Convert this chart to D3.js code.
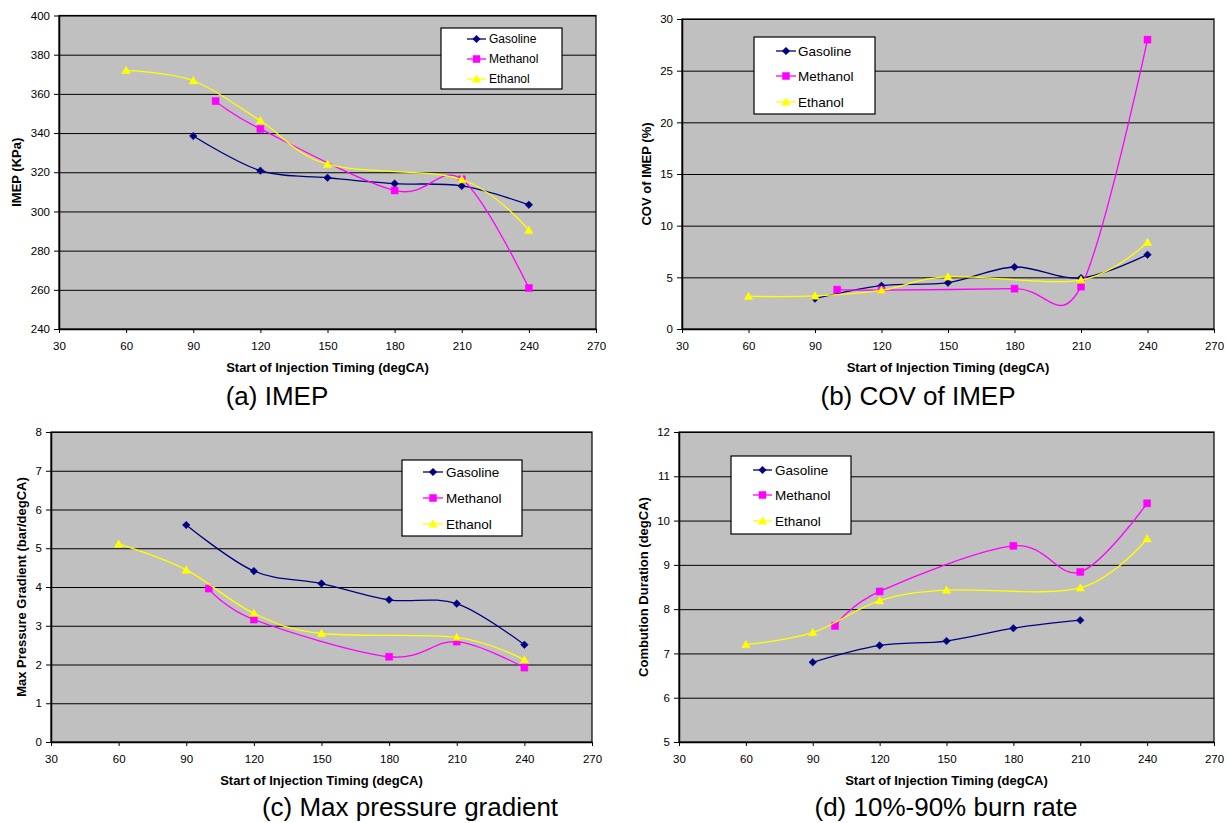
<!DOCTYPE html>
<html><head><meta charset="utf-8">
<script src="https://cdn.jsdelivr.net/npm/d3@7"></script>
<style>
body{margin:0;background:#fff}
svg{display:block}
text{font-family:"Liberation Sans",Arial,Helvetica,sans-serif;fill:#000}
</style>
</head><body>
<svg id="chart" width="1229" height="823"></svg>
<script>
// ---------------- data ----------------
const xTicks = [30, 60, 90, 120, 150, 180, 210, 240, 270];
const seriesNames = ["Gasoline", "Methanol", "Ethanol"];
const xTitle = "Start of Injection Timing (degCA)";

const gasolineX = [90, 120, 150, 180, 210, 240];
const methanolX = [100, 120, 180, 210, 240];
const ethanolX = [60, 90, 120, 150, 210, 240];
const burnGasolineX = [90, 120, 150, 180, 210];

// (a) IMEP (KPa)
const imepTicks = [240, 260, 280, 300, 320, 340, 360, 380, 400];
const imepGasoline = [338.5, 320.8, 317.2, 314.2, 313.0, 303.4];
const imepMethanol = [356.3, 342.1, 310.7, 316.4, 260.9];
const imepEthanol = [372.0, 366.7, 346.3, 324.1, 316.3, 290.4];

// (b) COV of IMEP (%)
const covTicks = [0, 5, 10, 15, 20, 25, 30];
const covGasoline = [2.94, 4.19, 4.48, 6.0, 4.94, 7.19];
const covMethanol = [3.81, 3.77, 3.9, 4.1, 28.0];
const covEthanol = [3.16, 3.2, 3.74, 5.06, 4.74, 8.39];

// (c) Max pressure gradient (bar/degCA)
const mpgTicks = [0, 1, 2, 3, 4, 5, 6, 7, 8];
const mpgGasoline = [5.6, 4.41, 4.09, 3.67, 3.57, 2.51];
const mpgMethanol = [3.96, 3.16, 2.2, 2.59, 1.92];
const mpgEthanol = [5.11, 4.44, 3.32, 2.8, 2.7, 2.12];

// (d) 10%-90% burn rate, Combution Duration (degCA)
const burnTicks = [5, 6, 7, 8, 9, 10, 11, 12];
const burnGasoline = [6.8, 7.18, 7.28, 7.57, 7.75];
const burnMethanol = [7.62, 8.4, 9.43, 8.84, 10.39];
const burnEthanol = [7.2, 7.47, 8.19, 8.43, 8.48, 9.59];

// ---------------- styles ----------------
const colors = { Gasoline: "#000080", Methanol: "#FF00FF", Ethanol: "#FFFF00" };
function markerPath(name) {
  if (name === "Gasoline") { const r = 3.8; return `M0,${-r}L${r},0L0,${r}L${-r},0Z`; }
  if (name === "Methanol") { const r = 3.5; return `M${-r},${-r}H${r}V${r}H${-r}Z`; }
  return "M0,-4.2L4.2,3.2L-4.2,3.2Z";
}

const svg = d3.select("#chart");
const FONT = '"Liberation Sans",Arial,Helvetica,sans-serif';

const panels = [
  { x0: 59, x1: 596, y0: 15.5, y1: 329, yTicks: imepTicks, yTitle: "IMEP (KPa)", yTitleX: 16,
    caption: "(a) IMEP", capX: 277, capY: 405, tickY: 346, xTitleY: 367,
    series: [[gasolineX, imepGasoline], [methanolX, imepMethanol], [ethanolX, imepEthanol]],
    leg: { x: 441, y: 28, w: 121, h: 61, rows: [39, 59, 79], l0: 467, l1: 486, tx: 489, fs: 12 } },
  { x0: 682, x1: 1214, y0: 19, y1: 329, yTicks: covTicks, yTitle: "COV of IMEP (%)", yTitleX: 646,
    caption: "(b) COV of IMEP", capX: 918, capY: 405, tickY: 346, xTitleY: 367,
    series: [[gasolineX, covGasoline], [methanolX, covMethanol], [ethanolX, covEthanol]],
    leg: { x: 754, y: 37, w: 121, h: 77, rows: [51, 76, 102], l0: 776, l1: 796, tx: 798, fs: 13.5 } },
  { x0: 51, x1: 592, y0: 432, y1: 742, yTicks: mpgTicks, yTitle: "Max Pressure Gradient (bar/degCA)", yTitleX: 21.5,
    caption: "(c) Max pressure gradient", capX: 410, capY: 816, tickY: 759, xTitleY: 780,
    series: [[gasolineX, mpgGasoline], [methanolX, mpgMethanol], [ethanolX, mpgEthanol]],
    leg: { x: 402, y: 460, w: 120, h: 76, rows: [472, 498, 524], l0: 423, l1: 443, tx: 446, fs: 13.5 } },
  { x0: 679, x1: 1214, y0: 432, y1: 742, yTicks: burnTicks, yTitle: "Combution Duration (degCA)", yTitleX: 643,
    caption: "(d) 10%-90% burn rate", capX: 946, capY: 816, tickY: 759, xTitleY: 780,
    series: [[burnGasolineX, burnGasoline], [methanolX, burnMethanol], [ethanolX, burnEthanol]],
    leg: { x: 731, y: 456, w: 120, h: 78, rows: [470, 495, 521], l0: 753, l1: 772, tx: 775, fs: 13.5 } }
];

function drawPanel(p) {
  const x = d3.scaleLinear().domain([xTicks[0], xTicks[xTicks.length - 1]]).range([p.x0, p.x1]);
  const y = d3.scaleLinear().domain([p.yTicks[0], p.yTicks[p.yTicks.length - 1]]).range([p.y1, p.y0]);
  const g = svg.append("g");
  const W = p.x1 - p.x0, H = p.y1 - p.y0;

  g.append("rect").attr("x", p.x0).attr("y", p.y0).attr("width", W).attr("height", H)
    .attr("fill", "#C0C0C0");

  // gridlines
  g.append("g").attr("transform", `translate(${p.x0},0)`)
    .call(d3.axisLeft(y).tickValues(p.yTicks).tickSize(-W).tickFormat(""))
    .call(s => s.select(".domain").remove())
    .selectAll("line").attr("stroke", "#000").attr("stroke-width", 1);

  // frame
  g.append("rect").attr("x", p.x0).attr("y", p.y0).attr("width", W).attr("height", H)
    .attr("fill", "none").attr("stroke", "#000").attr("stroke-width", 1.2);

  // x axis
  const xa = g.append("g").attr("transform", `translate(0,${p.y1})`)
    .call(d3.axisBottom(x).tickValues(xTicks).tickFormat(d => String(d)).tickSize(4).tickSizeOuter(0))
    .attr("font-family", FONT).attr("font-size", 11.5);
  xa.select(".domain").attr("stroke", "#000").attr("stroke-width", 1.5);
  xa.selectAll("line").attr("stroke", "#000");
  xa.selectAll("text").attr("dy", null).attr("y", p.tickY - p.y1).attr("dominant-baseline", "central");

  // y axis
  const ya = g.append("g").attr("transform", `translate(${p.x0},0)`)
    .call(d3.axisLeft(y).tickValues(p.yTicks).tickFormat(d => String(d)).tickSize(5).tickSizeOuter(0).tickPadding(4))
    .attr("font-family", FONT).attr("font-size", 11.5);
  ya.select(".domain").attr("stroke", "#000").attr("stroke-width", 1.5);
  ya.selectAll("line").attr("stroke", "#000");

  // series
  const line = d3.line().curve(d3.curveCardinal.tension(0));
  p.series.forEach((s, i) => {
    const name = seriesNames[i];
    const pts = s[0].map((xv, j) => [x(xv), y(s[1][j])]);
    g.append("path").attr("d", line(pts)).attr("fill", "none")
      .attr("stroke", colors[name]).attr("stroke-width", 1.3);
    g.selectAll(null).data(pts).enter().append("path")
      .attr("d", markerPath(name))
      .attr("transform", d => `translate(${d[0]},${d[1]})`)
      .attr("fill", colors[name]).attr("stroke", colors[name]).attr("stroke-width", 0.5);
  });

  // legend
  const L = p.leg;
  g.append("rect").attr("x", L.x).attr("y", L.y).attr("width", L.w).attr("height", L.h)
    .attr("fill", "#fff").attr("stroke", "#000").attr("stroke-width", 1.2);
  seriesNames.forEach((name, i) => {
    const ry = L.rows[i];
    g.append("line").attr("x1", L.l0).attr("x2", L.l1).attr("y1", ry).attr("y2", ry)
      .attr("stroke", colors[name]).attr("stroke-width", 1.3);
    g.append("path").attr("d", markerPath(name))
      .attr("transform", `translate(${(L.l0 + L.l1) / 2},${ry})`)
      .attr("fill", colors[name]).attr("stroke", colors[name]).attr("stroke-width", 0.5);
    g.append("text").attr("x", L.tx).attr("y", ry).attr("dominant-baseline", "central")
      .attr("font-size", L.fs).text(name);
  });

  // titles
  g.append("text").attr("x", (p.x0 + p.x1) / 2).attr("y", p.xTitleY)
    .attr("text-anchor", "middle").attr("dominant-baseline", "central")
    .attr("font-size", 13).attr("font-weight", "bold").text(xTitle);
  g.append("text")
    .attr("transform", `translate(${p.yTitleX},${(p.y0 + p.y1) / 2}) rotate(-90)`)
    .attr("text-anchor", "middle").attr("dominant-baseline", "central")
    .attr("font-size", 13).attr("font-weight", "bold").text(p.yTitle);
  g.append("text").attr("x", p.capX).attr("y", p.capY).attr("text-anchor", "middle")
    .attr("font-size", 26).text(p.caption);
}

panels.forEach(drawPanel);
</script>
</body></html>
